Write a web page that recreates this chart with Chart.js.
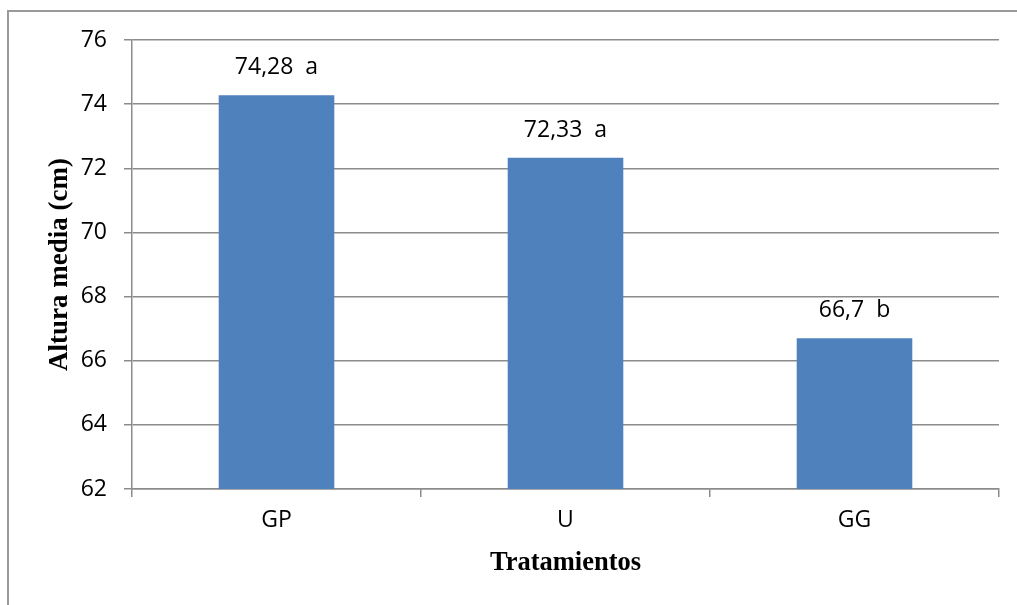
<!DOCTYPE html>
<html>
<head>
<meta charset="utf-8">
<script src="https://cdn.jsdelivr.net/npm/chart.js@4/dist/chart.umd.min.js"></script>
<style>
  html, body { margin: 0; padding: 0; background: #fff; overflow: hidden; }
  #wrap { position: relative; width: 1017px; height: 605px; }
  #frame { position: absolute; left: 7px; top: 10px; width: 1100px; height: 700px;
           border: 2px solid #9a9a9a; box-sizing: border-box; pointer-events: none; }
  canvas { position: absolute; left: 0; top: 0; }
</style>
</head>
<body>
<div id="wrap">
  <canvas id="c" width="1017" height="605"></canvas>
  <div id="frame"></div>
</div>
<script>
// Treatments and mean plant height (cm) with significance letters
const categories = ['GP', 'U', 'GG'];
const heights = [74.28, 72.33, 66.7];
const groupLetters = ['a', 'a', 'b'];
const yTicks = [62, 64, 66, 68, 70, 72, 74, 76];

const gridGray = '#8c8c8c';
const tickFont = { family: '"Open Sans", "Noto Sans", sans-serif', size: 23 };
const titleFont = { family: '"Liberation Serif", "Times New Roman", serif', size: 26.5, weight: 'bold' };

// Value label above each bar: decimal comma plus group letter
const barLabels = {
  id: 'barLabels',
  afterDatasetsDraw(chart) {
    const ctx = chart.ctx;
    const meta = chart.getDatasetMeta(0);
    ctx.save();
    ctx.font = `${tickFont.size}px ${tickFont.family}`;
    ctx.fillStyle = '#000';
    ctx.textAlign = 'center';
    ctx.textBaseline = 'alphabetic';
    meta.data.forEach((bar, i) => {
      const txt = String(heights[i]).replace('.', ',') + '  ' + groupLetters[i];
      ctx.fillText(txt, bar.x, bar.y - 21);
    });
    ctx.restore();
  }
};

new Chart(document.getElementById('c'), {
  type: 'bar',
  data: {
    labels: categories,
    datasets: [{
      data: heights,
      backgroundColor: '#4f81bd',
      borderWidth: 0,
      barPercentage: 0.4,
      categoryPercentage: 1.0
    }]
  },
  options: {
    responsive: false,
    animation: false,
    layout: { padding: { left: 40, right: 18, top: 40, bottom: 20 } },
    plugins: { legend: { display: false }, tooltip: { enabled: false } },
    scales: {
      x: {
        grid: { display: true, offset: true, drawOnChartArea: false, tickLength: 8, color: gridGray, lineWidth: 1.5 },
        border: { display: true, color: gridGray, width: 1.5 },
        ticks: { font: tickFont, color: '#000', padding: 10 },
        title: { display: true, text: 'Tratamientos', font: titleFont, color: '#000', padding: { top: 0, bottom: 6 } },
        afterFit(scale) { scale.height = 96; }
      },
      y: {
        min: 62,
        max: 76,
        afterBuildTicks(scale) { scale.ticks = yTicks.map(v => ({ value: v })); },
        grid: { color: gridGray, lineWidth: 1.5, tickLength: 8 },
        border: { display: true, color: gridGray, width: 1.5 },
        ticks: { font: tickFont, color: '#000', padding: 17 },
        title: { display: true, text: 'Altura media (cm)', font: { ...titleFont, size: 27 }, color: '#000', padding: { top: 4, bottom: 0 } },
        afterFit(scale) { scale.width = 92; }
      }
    }
  },
  plugins: [barLabels]
});
</script>
</body>
</html>
